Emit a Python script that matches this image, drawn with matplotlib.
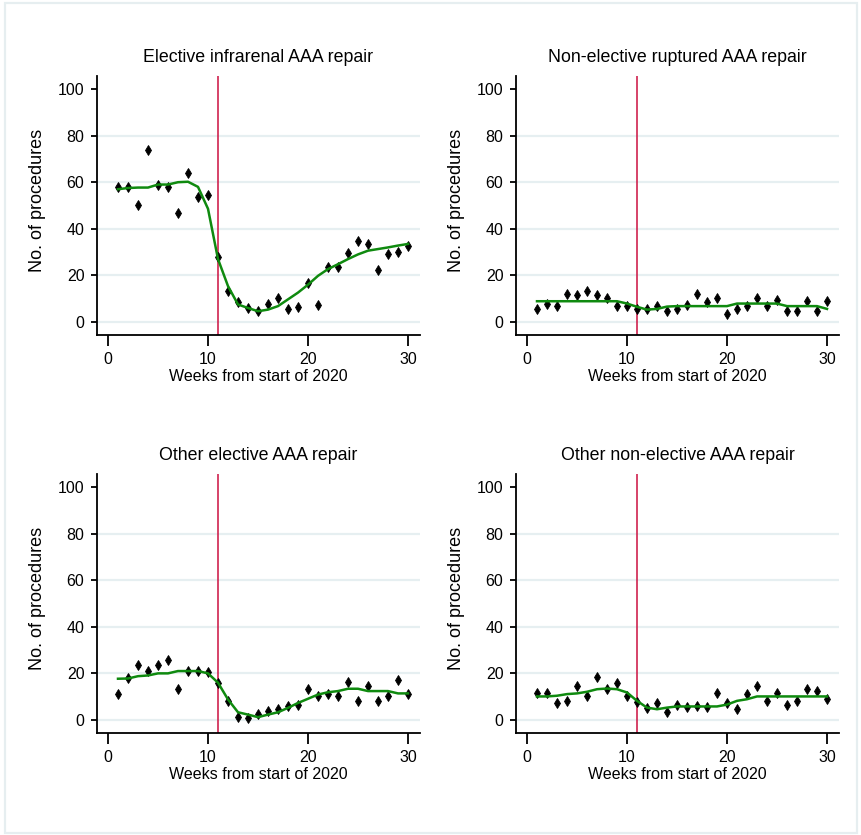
import matplotlib
matplotlib.use("Agg")
import matplotlib.pyplot as plt
from matplotlib import font_manager
from matplotlib.patches import Rectangle

# ---------------- data ----------------
weeks = list(range(1, 31))

titles = ["Elective infrarenal AAA repair", "Non-elective ruptured AAA repair",
          "Other elective AAA repair", "Other non-elective AAA repair"]

p1_counts = [58, 58, 50.4, 73.9, 59, 57.9, 46.9, 63.8, 53.7, 54.4, 28, 13.3, 8.7, 5.8, 4.6,
             7.5, 10.4, 5.6, 6.5, 16.9, 7.2, 23.4, 23.7, 29.4, 34.6, 33.5, 22.4, 29.1, 30.2, 32.5]
p1_smooth = [57, 57.5, 57.7, 57.7, 59, 59, 60, 60.2, 58, 48.6, 27, 15.4, 7.5, 6, 4.6,
             5.3, 6.8, 9.7, 12.6, 16, 19.8, 22.7, 24.8, 27, 29, 30.6, 31.3, 32, 32.8, 33.5]

p2_counts = [5.6, 7.9, 6.8, 12.2, 11.4, 13.2, 11.7, 10.5, 6.8, 6.8, 5.6, 5.6, 7, 4.5, 5.6,
             7.3, 12.2, 8.5, 10.2, 3.5, 5.6, 6.8, 10.4, 6.8, 9.6, 4.5, 4.5, 9.2, 4.5, 8.9]
p2_smooth = [8.9, 8.9, 8.9, 8.9, 8.9, 8.9, 8.9, 8.9, 8.9, 7.9, 6.5, 5.3, 5.6, 6.6, 6.8,
             6.8, 6.8, 6.8, 6.8, 6.8, 7.9, 7.9, 7.9, 7.9, 7.9, 6.8, 6.8, 6.8, 6.8, 5.6]

p3_counts = [11.2, 18.1, 23.5, 21, 23.5, 25.6, 13.4, 21, 21, 20.6, 16, 8.1, 1.2, 0.9, 2.6,
             3.7, 4.7, 6.2, 6.6, 13.4, 10.2, 11.2, 10.2, 16.4, 8.1, 14.5, 8.1, 10.2, 17, 11.2]
p3_smooth = [17.7, 17.8, 18.8, 19.1, 20, 20, 21, 21, 21, 20, 16, 8.8, 3.3, 2.3, 1.2,
             2.3, 3.3, 5.2, 7.3, 9.1, 10.9, 11.9, 12.4, 13.4, 13.4, 12.4, 12.4, 12.4, 11.4, 11.4]

p4_counts = [11.4, 11.4, 7.1, 8.2, 14.7, 10.4, 18.3, 13.5, 15.7, 10.4, 7.8, 5, 7.1, 3.5, 6.6,
             5.6, 6, 5.6, 11.4, 7.1, 4.6, 11.1, 14.7, 8.2, 11.4, 6.3, 8.2, 13.5, 12.5, 9.2]
p4_smooth = [10.1, 10.1, 10.4, 11.1, 11.4, 12.1, 13.2, 13.5, 13.2, 11.8, 8.2, 5.3, 4.6, 5.3, 5.8,
             5.8, 5.8, 5.8, 5.8, 6.6, 8.2, 8.9, 10.1, 10.1, 10.1, 10.1, 10.1, 10.1, 10.1, 10.1]

counts = [p1_counts, p2_counts, p3_counts, p4_counts]
smooths = [p1_smooth, p2_smooth, p3_smooth, p4_smooth]

cutoff_week = 11
x_ticks = [0, 10, 20, 30]
y_ticks = [0, 20, 40, 60, 80, 100]
x_label = "Weeks from start of 2020"
y_label = "No. of procedures"

# ---------------- fonts ----------------
def has_font(name):
    try:
        font_manager.findfont(name, fallback_to_default=False)
        return True
    except Exception:
        return False

narrow = "Liberation Sans Narrow" if has_font("Liberation Sans Narrow") else "Liberation Sans"
regular = "Liberation Sans"
is_narrow = narrow != regular

title_fs = 15 if is_narrow else 12.8
xlab_fs = 14 if is_narrow else 11.5
tick_fs = 13 if is_narrow else 11.5
ylab_fs = 13

# ---------------- figure ----------------
W, H = 862, 835
fig = plt.figure(figsize=(W / 100, H / 100), dpi=100)
fig.patch.set_facecolor("white")

# Graph region border
fig.add_artist(Rectangle((5 / W, 2 / H), (857 - 5) / W, (832 - 2) / H,
                         transform=fig.transFigure, fill=False,
                         edgecolor="#e6eef0", linewidth=1.6))

grid_col = "#e6eff1"
green = "#0f8a0f"
red = "#cc1040"

positions = [(97, 76), (516, 76), (97, 474), (516, 474)]
aw, ah = 323, 259

for i in range(4):
    lx, ty = positions[i]
    ax = fig.add_axes([lx / W, (H - ty - ah) / H, aw / W, ah / H])
    ax.set_facecolor("white")
    ax.set_xlim(-1.1, 31.2)
    ax.set_ylim(-5.6, 105.6)

    for yv in y_ticks[:-1]:
        ax.axhline(yv, color=grid_col, linewidth=1.6, zorder=0)

    ax.axvline(cutoff_week, color=red, linewidth=1.1, zorder=2)
    ax.plot(weeks, counts[i], linestyle="none", marker="d", markersize=5,
            color="black", markeredgewidth=0.6, zorder=3)
    ax.plot(weeks, smooths[i], color=green, linewidth=1.8, zorder=4)

    for s in ["top", "right"]:
        ax.spines[s].set_visible(False)
    for s in ["left", "bottom"]:
        ax.spines[s].set_linewidth(1.3)
        ax.spines[s].set_color("black")

    ax.set_xticks(x_ticks)
    ax.set_yticks(y_ticks)
    ax.set_xticklabels([str(v) for v in x_ticks], fontfamily=narrow, fontsize=tick_fs)
    ax.set_yticklabels([str(v) for v in y_ticks], fontfamily=narrow, fontsize=tick_fs)
    ax.tick_params(axis="x", length=8, width=1.3, pad=4)
    ax.tick_params(axis="y", length=4, width=1.3, pad=5)

    ax.set_xlabel(x_label, fontfamily=narrow, fontsize=xlab_fs, labelpad=2)
    ax.set_ylabel(y_label, fontfamily=regular, fontsize=ylab_fs)
    ax.yaxis.set_label_coords(-0.158, 0.52)
    ax.set_title(titles[i], fontfamily=narrow, fontsize=title_fs, pad=10)

fig.savefig("out.png", dpi=100, facecolor="white")
